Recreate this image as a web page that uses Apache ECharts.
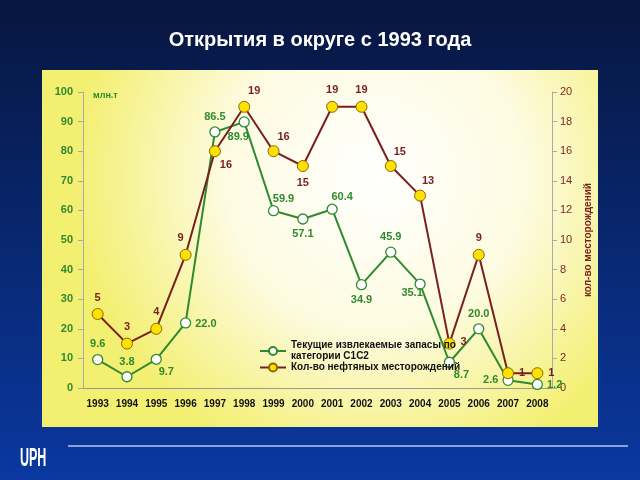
<!DOCTYPE html>
<html><head><meta charset="utf-8">
<script src="https://cdn.jsdelivr.net/npm/echarts@6/dist/echarts.min.js"></script>
<style>html,body{margin:0;padding:0;}#c{width:640px;height:480px;}</style>
</head><body><div id="c"></div>
<script>
const years = ['1993','1994','1995','1996','1997','1998','1999','2000','2001','2002','2003','2004','2005','2006','2007','2008'];
const reserves = [9.6, 3.8, 9.7, 22.0, 86.5, 89.9, 59.9, 57.1, 60.4, 34.9, 45.9, 35.1, 8.7, 20.0, 2.6, 1.2];
const fields = [5, 3, 4, 9, 16, 19, 16, 15, 19, 19, 15, 13, 3, 9, 1, 1];
// label placement (style only): [position, dx, dy]
const reservesLabelPos = [['top',0,0],['top',0,0],['bottom',10,-2],['right',0,1],['top',0,0],['bottom',-6,0],['top',10,3],['bottom',0,0],['top',10,3],['bottom',0,0],['top',0,0],['bottom',-8,-6],['bottom',12,-2],['top',0,0],['left',0,0],['right',0,1]];
const fieldsLabelPos = [['top',0,0],['top',0,0],['top',0,0],['top',-5,0],['bottom',11,-3],['top',10,1],['top',10,2],['bottom',0,0],['top',0,0],['top',0,0],['top',9,2],['top',8,2],['right',0,-2],['top',0,0],['right',0,0],['right',0,0]];
const nameReserves = 'Текущие извлекаемые запасы по категории С1С2';
const nameFields = 'Кол-во нефтяных месторождений';

const green = '#2f8a2f', red = '#7a1f1f';
const chart = echarts.init(document.getElementById('c'));
chart.setOption({
  animation: false,
  backgroundColor: {type:'linear',x:0,y:0,x2:0,y2:1,colorStops:[{offset:0,color:'#07163f'},{offset:1,color:'#0a38a0'}]},
  title: {text:'Открытия в округе с 1993 года', left:'center', top:25, textStyle:{color:'#fff', fontSize:20, fontWeight:'bold', fontFamily:'Liberation Sans'}},
  graphic: [
    {type:'rect', shape:{x:42,y:70,width:556,height:357}, z:-10, style:{fill:{type:'radial',x:0.6,y:0.3,r:0.85,colorStops:[{offset:0,color:'#ffffff'},{offset:0.5,color:'#fdfbe0'},{offset:1,color:'#f3ef70'}]}}},
    {type:'line', shape:{x1:68,y1:446,x2:628,y2:446}, style:{stroke:'#b8c8ee', lineWidth:1.5}},
    {type:'text', x:20, y:447, scaleX:0.5, style:{text:'UPH', fill:'#fff', font:'bold 25px "Liberation Sans"'}}
  ],
  grid: {left:83, right:88, top:92, bottom:92},
  legend: {
    orient:'vertical', left:254, top:335, itemGap:0, itemWidth:26, itemHeight:10,
    textStyle:{color:'#111', fontSize:10, fontWeight:'bold', fontFamily:'Liberation Sans', lineHeight:11},
    formatter: function(n){ return n === nameReserves ? 'Текущие извлекаемые запасы по\nкатегории С1С2' : n; },
    data:[nameReserves, nameFields]
  },
  xAxis: {type:'category', data:years, boundaryGap:true,
    axisLine:{lineStyle:{color:'#999'}}, axisTick:{lineStyle:{color:'#999'}},
    axisLabel:{color:'#111', fontWeight:'bold', fontSize:10, fontFamily:'Liberation Sans', margin:11}},
  yAxis: [
    {type:'value', min:0, max:100, interval:10, name:'млн.т', nameLocation:'end', nameGap:-8,
     nameTextStyle:{color:green, fontWeight:'bold', fontSize:9, align:'left', padding:[0,0,0,10]},
     splitLine:{show:false}, axisLine:{show:true, lineStyle:{color:'#aaa'}}, axisTick:{show:true, lineStyle:{color:'#aaa'}},
     axisLabel:{color:green, fontWeight:'bold', fontSize:11, fontFamily:'Liberation Sans', margin:10}},
    {type:'value', min:0, max:20, interval:2, position:'right', name:'кол-во месторождений', nameLocation:'middle', nameGap:26, nameRotate:90,
     nameTextStyle:{color:red, fontWeight:'bold', fontSize:10, fontFamily:'Liberation Sans'},
     splitLine:{show:false}, axisLine:{show:true, lineStyle:{color:'#aaa'}}, axisTick:{show:true, lineStyle:{color:'#aaa'}},
     axisLabel:{color:red, fontSize:11, fontFamily:'Liberation Sans', margin:8}}
  ],
  series: [
    {name:nameReserves, type:'line', yAxisIndex:0, symbol:'circle', symbolSize:10,
     lineStyle:{color:green, width:2}, itemStyle:{color:'#ffffff', borderColor:green, borderWidth:1.3},
     data: reserves.map((v,i)=>({value:v, label:{position:reservesLabelPos[i][0], offset:[reservesLabelPos[i][1], reservesLabelPos[i][2]]}})),
     label:{show:true, color:green, fontWeight:'bold', fontSize:11, fontFamily:'Liberation Sans', distance:4, formatter:p=>p.value.toFixed(1)}},
    {name:nameFields, type:'line', yAxisIndex:1, symbol:'circle', symbolSize:11,
     lineStyle:{color:red, width:2}, itemStyle:{color:'#ffe100', borderColor:'#8a6a00', borderWidth:1},
     data: fields.map((v,i)=>({value:v, label:{position:fieldsLabelPos[i][0], offset:[fieldsLabelPos[i][1], fieldsLabelPos[i][2]]}})),
     label:{show:true, color:red, fontWeight:'bold', fontSize:11, fontFamily:'Liberation Sans', distance:5}}
  ]
});
</script></body></html>
